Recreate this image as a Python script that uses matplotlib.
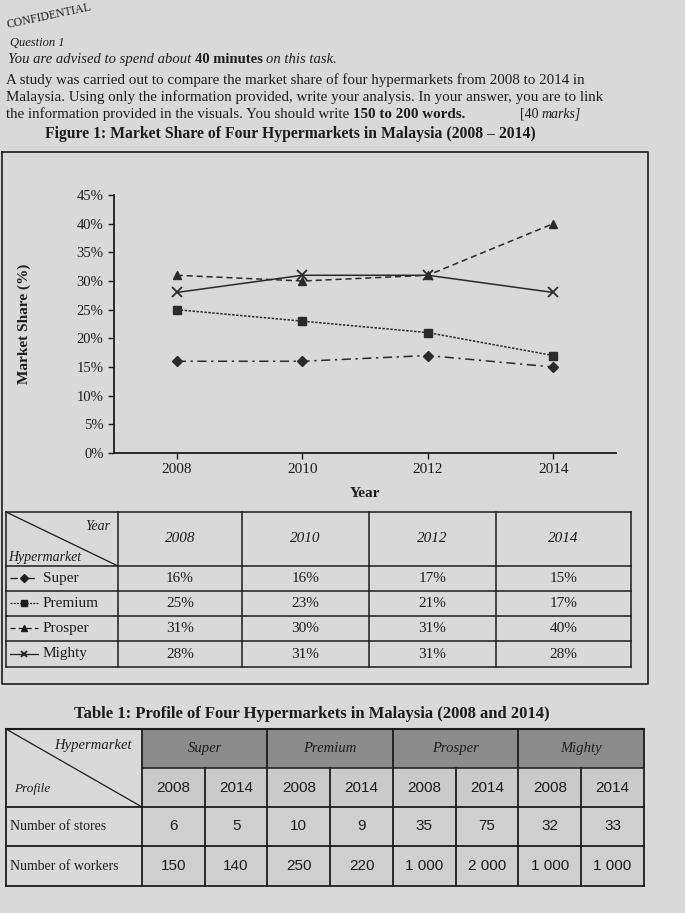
"""Exam page: market share line chart with data table and profile table."""

import matplotlib
matplotlib.use("Agg")
import matplotlib.pyplot as plt
from matplotlib.patches import Rectangle
from matplotlib.ticker import FuncFormatter
import numpy as np

W, H = 685, 913
SERIF = "Liberation Serif"
SANS = "Liberation Sans"
INK = "#1c1c1c"
PAPER = "#d9d9d9"

# ---- data -------------------------------------------------------------
years = [2008, 2010, 2012, 2014]
hypermarkets = ["Super", "Premium", "Prosper", "Mighty"]
share_super = [16, 16, 17, 15]
share_premium = [25, 23, 21, 17]
share_prosper = [31, 30, 31, 40]
share_mighty = [28, 31, 31, 28]
y_ticks = [0, 5, 10, 15, 20, 25, 30, 35, 40, 45]

profile_years = ["2008", "2014"]
stores = [6, 5, 10, 9, 35, 75, 32, 33]
workers = [150, 140, 250, 220, 1000, 2000, 1000, 1000]

shares = [share_super, share_premium, share_prosper, share_mighty]
styles = {
    "Super": dict(linestyle=(0, (6, 3, 1.5, 3)), marker="D", markersize=5.5),
    "Premium": dict(linestyle=(0, (1.6, 1.0)), marker="s", markersize=5.5),
    "Prosper": dict(linestyle=(0, (4, 2.5)), marker="^", markersize=5.5),
    "Mighty": dict(linestyle="-", marker="x", markersize=6.5, markeredgewidth=1.3),
}

fig = plt.figure(figsize=(W / 100, H / 100), dpi=100, facecolor=PAPER)
page = fig.add_axes([0, 0, 1, 1], zorder=0)
page.set_xlim(0, W)
page.set_ylim(H, 0)
page.axis("off")
renderer = fig.canvas.get_renderer()


def rich(x, y, parts, size=10):
    """Place text pieces of mixed style one after another on a line."""
    gap = size * 0.25 * 100 / 72
    for s, style in parts:
        t = page.text(x, y, s, fontsize=size, family=SERIF, color=INK,
                      va="baseline", ha="left", **style)
        x += t.get_window_extent(renderer).width + gap


# ---- header text -------------------------------------------------------
page.text(8, 28, "CONFIDENTIAL", family=SERIF, fontsize=8.5, color=INK,
          rotation=12, rotation_mode="anchor")
page.text(10, 46, "Question 1", family=SERIF, fontsize=9, style="italic", color=INK)
rich(8, 63, [("You are advised to spend about", dict(style="italic")),
             ("40 minutes", dict(weight="bold")),
             ("on this task.", dict(style="italic"))], size=10.5)
rich(6, 84, [("A study was carried out to compare the market share of four "
              "hypermarkets from 2008 to 2014 in", {})], size=10.8)
rich(6, 101, [("Malaysia. Using only the information provided, write your "
               "analysis. In your answer, you are to link", {})], size=10.8)
rich(6, 118, [("the information provided in the visuals. You should write", {}),
              ("150 to 200 words.", dict(weight="bold"))], size=10.8)
rich(520, 118, [("[40", {}), ("marks]", dict(style="italic"))], size=10)
page.text(290, 138, "Figure 1: Market Share of Four Hypermarkets in Malaysia (2008 – 2014)",
          family=SERIF, fontsize=11.3, weight="bold", color=INK, ha="center", va="baseline")

# figure frame
page.plot([2, 648, 648, 2, 2], [152, 152, 684, 684, 152], color=INK, lw=1.2)

# ---- line chart --------------------------------------------------------
ax = fig.add_axes([114 / W, 1 - 453 / H, (616 - 114) / W, (453 - 195) / H], zorder=1)
ax.set_facecolor("none")
for name, vals in zip(hypermarkets, shares):
    ax.plot(years, vals, color="#2a2a2a", lw=1.1, markerfacecolor="#2a2a2a",
            markeredgecolor="#2a2a2a", **styles[name])
ax.set_xlim(2007, 2015)
ax.set_ylim(0, 45)
ax.set_xticks(years)
ax.set_yticks(y_ticks)
ax.yaxis.set_major_formatter(FuncFormatter(lambda v, p: f"{v:.0f}%"))
for side in ("top", "right"):
    ax.spines[side].set_visible(False)
for side in ("left", "bottom"):
    ax.spines[side].set_linewidth(1.3)
    ax.spines[side].set_color(INK)
ax.tick_params(direction="out", length=4, width=1, colors=INK, labelsize=10.5)
ax.tick_params(axis="x", labelsize=11)
for lab in ax.get_xticklabels() + ax.get_yticklabels():
    lab.set_family(SERIF)
ax.set_ylabel("Market Share (%)", family=SERIF, fontsize=11, weight="bold", color=INK)
ax.yaxis.set_label_coords(-0.165, 0.5)
ax.set_xlabel("Year", family=SERIF, fontsize=11, weight="bold", color=INK)
ax.xaxis.set_label_coords(0.5, -0.13)

# ---- figure 1 data table ----------------------------------------------
cols = [6, 118, 242, 369, 496, 631]
rows = [512, 566, 591, 616, 641, 667]
for y in rows:
    page.plot([cols[0], cols[-1]], [y, y], color=INK, lw=1.1)
for x in cols:
    page.plot([x, x], [rows[0], rows[-1]], color=INK, lw=1.1)
page.plot([cols[0], cols[1]], [rows[0], rows[1]], color=INK, lw=0.9)
page.text(cols[1] - 8, rows[0] + 14, "Year", family=SERIF, fontsize=10,
          style="italic", color=INK, ha="right", va="center")
page.text(cols[0] + 2, rows[1] - 9, "Hypermarket", family=SERIF, fontsize=10,
          style="italic", color=INK, ha="left", va="center")
for j, yr in enumerate(years):
    page.text((cols[j + 1] + cols[j + 2]) / 2, (rows[0] + rows[1]) / 2, str(yr),
              family=SERIF, fontsize=11, style="italic", color=INK,
              ha="center", va="center")
for i, (name, vals) in enumerate(zip(hypermarkets, shares)):
    yc = (rows[i + 1] + rows[i + 2]) / 2
    st = dict(styles[name])
    st["markersize"] = st["markersize"] * 0.75
    page.plot([cols[0] + 4, cols[0] + 18, cols[0] + 32], [yc, yc, yc], color=INK,
              lw=0.9, markevery=[1], markerfacecolor=INK, markeredgecolor=INK, **st)
    page.text(cols[0] + 37, yc, name, family=SERIF, fontsize=11, color=INK,
              ha="left", va="center")
    for j, v in enumerate(vals):
        page.text((cols[j + 1] + cols[j + 2]) / 2, yc, f"{v}%", family=SERIF,
                  fontsize=11, color=INK, ha="center", va="center")

# ---- table 1 -----------------------------------------------------------
page.text(312, 718, "Table 1: Profile of Four Hypermarkets in Malaysia (2008 and 2014)",
          family=SERIF, fontsize=12, weight="bold", color=INK, ha="center", va="baseline")

tcols = np.concatenate([[6], np.linspace(142, 644, 9)])
trows = [729, 768, 807, 846, 886]

page.add_patch(Rectangle((tcols[1], trows[0]), tcols[-1] - tcols[1], trows[1] - trows[0],
                         facecolor="#8c8c8c", edgecolor="none"))
page.add_patch(Rectangle((tcols[1], trows[1]), tcols[-1] - tcols[1], trows[2] - trows[1],
                         facecolor="#cacaca", edgecolor="none"))
page.add_patch(Rectangle((tcols[1], trows[2]), tcols[-1] - tcols[1], trows[4] - trows[2],
                         facecolor="#cfcfcf", edgecolor="none"))

page.plot([tcols[0], tcols[-1]], [trows[0], trows[0]], color=INK, lw=1.5)
page.plot([tcols[1], tcols[-1]], [trows[1], trows[1]], color=INK, lw=1.1)
for y in trows[2:]:
    page.plot([tcols[0], tcols[-1]], [y, y], color=INK, lw=1.3)
for k, x in enumerate(tcols):
    top = trows[0] if k < 2 or (k - 1) % 2 == 0 else trows[1]
    page.plot([x, x], [top, trows[-1]], color=INK, lw=1.3)
page.plot([tcols[0], tcols[1]], [trows[0], trows[2]], color=INK, lw=0.9)

page.text(tcols[1] - 10, trows[0] + 17, "Hypermarket", family=SERIF, fontsize=10.5,
          style="italic", color=INK, ha="right", va="center")
page.text(tcols[0] + 8, trows[2] - 18, "Profile", family=SERIF, fontsize=9.5,
          style="italic", color=INK, ha="left", va="center")
page.text(tcols[0] + 4, (trows[2] + trows[3]) / 2, "Number of stores", family=SERIF,
          fontsize=10, color=INK, ha="left", va="center")
page.text(tcols[0] + 4, (trows[3] + trows[4]) / 2, "Number of workers", family=SERIF,
          fontsize=10, color=INK, ha="left", va="center")

for g, name in enumerate(hypermarkets):
    xc = (tcols[1 + 2 * g] + tcols[3 + 2 * g]) / 2
    page.text(xc, (trows[0] + trows[1]) / 2, name, family=SERIF, fontsize=10.5,
              style="italic", color=INK, ha="center", va="center")
for k in range(8):
    xc = (tcols[k + 1] + tcols[k + 2]) / 2
    page.text(xc, (trows[1] + trows[2]) / 2, profile_years[k % 2], family=SANS,
              fontsize=11, color=INK, ha="center", va="center")
    page.text(xc, (trows[2] + trows[3]) / 2, str(stores[k]), family=SANS,
              fontsize=11, color=INK, ha="center", va="center")
    page.text(xc, (trows[3] + trows[4]) / 2, f"{workers[k]:,}".replace(",", " "),
              family=SANS, fontsize=11, color=INK, ha="center", va="center")

fig.savefig("out.png", dpi=100, facecolor=PAPER)
